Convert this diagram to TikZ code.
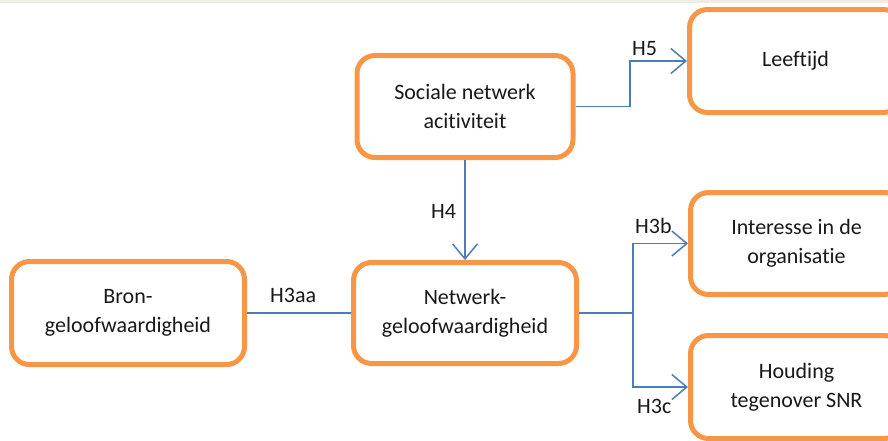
\documentclass[tikz,border=0pt]{standalone}
\usepackage{fontspec}
\setmainfont{Carlito}[Ligatures={NoCommon,NoContextual}]
\usetikzlibrary{arrows.meta}
\definecolor{boxorange}{HTML}{F79646}
\definecolor{linkblue}{HTML}{4A7EBB}
\definecolor{topstrip}{HTML}{EEEDE3}
\begin{document}
\begin{tikzpicture}[x=1pt,y=-1pt,
  box/.style={draw=boxorange, line width=5pt, fill=white, rounded corners=18pt,
    align=center, inner sep=0pt, font=\fontsize{22}{29}\selectfont, text=black!90},
  lbl/.style={anchor=base west, inner sep=0pt, font=\fontsize{22}{29}\selectfont, text=black!90},
  link/.style={draw=linkblue, line width=1.5pt},
  arr/.style={link, -{Straight Barb[length=15pt,width=25pt]}}]
\useasboundingbox (0,0) rectangle (888,440);
\clip (0,0) rectangle (888,440);
\fill[topstrip] (0,0) rectangle (888,2.5);

\node[box, minimum width=216pt, minimum height=102pt] (soc) at (465,106.5) {Sociale netwerk\\acitiviteit};
\node[box, minimum width=212pt, minimum height=103pt] (lee) at (795.5,61) {Leeftijd};
\node[box, minimum width=233pt, minimum height=103pt] (bron) at (128,313) {Bron-\\geloofwaardigheid};
\node[box, minimum width=223pt, minimum height=101pt] (net) at (465,313) {Netwerk-\\geloofwaardigheid};
\node[box, minimum width=212pt, minimum height=102pt] (int) at (796.5,243.5) {Interesse in de\\organisatie};
\node[box, minimum width=212pt, minimum height=103pt] (hou) at (796.5,387) {Houding\\tegenover SNR};

\coordinate (j1) at (630,0);
\coordinate (j2) at (633,0);

\draw[arr] (soc.east) -- (soc.east -| j1) |- (lee.west);
\draw[arr] (soc.south) -- (net.north);
\draw[link] (bron.east) -- (net.west);
\draw[link] (net.east) -- (net.east -| j2);
\draw[arr] (net.east -| j2) |- (int.west);
\draw[arr] (net.east -| j2) |- (hou.west);

\node[lbl] (h5) at (632,55) {H5};
\node[lbl] (h4) at (431,218) {H4};
\node[lbl] (h3aa) at (270,302) {H3aa};
\node[lbl] (h3b) at (635,233) {H3b};
\node[lbl] (h3c) at (637,413) {H3c};
\end{tikzpicture}
\end{document}
